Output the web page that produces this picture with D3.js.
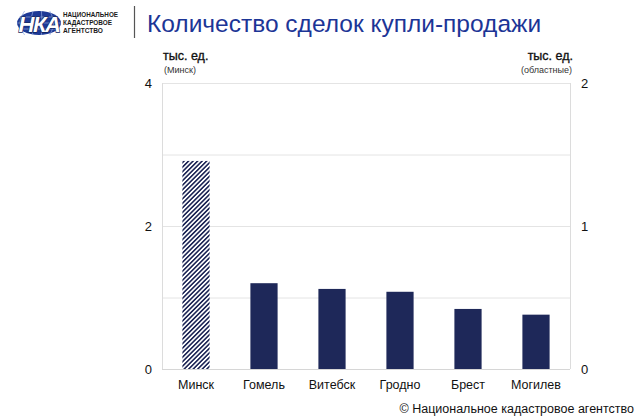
<!DOCTYPE html>
<html><head><meta charset="utf-8">
<script src="https://cdn.jsdelivr.net/npm/d3@7"></script>
<style>
body{margin:0;background:#fff;}
svg{display:block;font-family:"Liberation Sans",Arial,sans-serif;}
</style></head>
<body>
<svg id="c" width="643" height="419"></svg>
<script>
const categories = ["Минск","Гомель","Витебск","Гродно","Брест","Могилев"];
const values = [2.91, 0.60, 0.56, 0.54, 0.42, 0.38];
const axisOf = ["left","right","right","right","right","right"];
const leftTicks = [0, 2, 4];
const rightTicks = [0, 1, 2];
const gridTicks = [0, 1, 2, 3, 4];
const title = "Количество сделок купли-продажи";

const svg = d3.select("#c");
const plot = {l:162, r:570, t:83, b:369};

const x = d3.scaleBand().domain(categories).range([plot.l, plot.r]).paddingInner(0.6).paddingOuter(0.3);
const yL = d3.scaleLinear().domain([0,4]).range([plot.b, plot.t]);
const yR = d3.scaleLinear().domain([0,2]).range([plot.b, plot.t]);

const defs = svg.append("defs");
const pat = defs.append("pattern").attr("id","hatch").attr("patternUnits","userSpaceOnUse")
  .attr("width",3.2).attr("height",3.2).attr("patternTransform","rotate(45)");
pat.append("rect").attr("width",3.2).attr("height",3.2).attr("fill","#fff");
pat.append("rect").attr("x",0).attr("y",0).attr("width",1.6).attr("height",3.2).attr("fill","#1e2656");

// header: logo
const logo = svg.append("g").attr("transform","translate(13,11)");
logo.append("ellipse").attr("cx",26).attr("cy",12).attr("rx",22).attr("ry",12).attr("fill","#1e3a96");
[-12,-5,2,9].forEach(d=>logo.append("path").attr("d",`M${26+d*1.2},0 Q${26+d*2},12 ${26+d*1.2},24`).attr("fill","none").attr("stroke","#8fa6dc").attr("stroke-width",0.7));
logo.append("path").attr("d","M4,12 H48 M7,6 H45 M7,18 H45").attr("stroke","#8fa6dc").attr("stroke-width",0.7);
logo.append("text").attr("x",26).attr("y",21).attr("text-anchor","middle").attr("font-size",22).attr("font-weight","bold")
  .attr("font-style","italic").attr("fill","#fff").attr("stroke","#10245f").attr("stroke-width",1.3).attr("paint-order","stroke")
  .attr("letter-spacing",-1.5).text("НКА");
const lt = svg.append("g").attr("font-size",7.5).attr("font-weight","bold").attr("fill","#1a1a1a");
const logoLines = ["НАЦИОНАЛЬНОЕ","КАДАСТРОВОЕ","АГЕНТСТВО"];
const logoLens = [55, 49, 40];
logoLines.forEach((t,i)=>lt.append("text").attr("x",63).attr("y",17+i*8)
  .attr("textLength",logoLens[i]).attr("lengthAdjust","spacingAndGlyphs").text(t));
svg.append("line").attr("x1",134.5).attr("x2",134.5).attr("y1",6).attr("y2",38).attr("stroke","#555").attr("stroke-width",1.2);
svg.append("text").attr("x",147).attr("y",32).attr("font-size",24.5).attr("fill","#1c3596").text(title);

// gridlines
svg.append("g").selectAll("line").data(gridTicks).join("line")
  .attr("x1",plot.l).attr("x2",plot.r).attr("y1",d=>yL(d)+0.5).attr("y2",d=>yL(d)+0.5)
  .attr("stroke","#e4e4e4").attr("stroke-width",1);
svg.append("line").attr("x1",plot.l+0.5).attr("x2",plot.l+0.5).attr("y1",plot.t).attr("y2",plot.b).attr("stroke","#dcdcdc");
svg.append("line").attr("x1",plot.r+0.5).attr("x2",plot.r+0.5).attr("y1",plot.t).attr("y2",plot.b).attr("stroke","#dcdcdc");
svg.append("line").attr("x1",plot.l).attr("x2",plot.r).attr("y1",plot.b+0.5).attr("y2",plot.b+0.5).attr("stroke","#d6d6d6");

// bars
svg.append("g").selectAll("rect").data(categories).join("rect")
  .attr("x",d=>x(d)).attr("width",x.bandwidth())
  .attr("y",(d,i)=>(axisOf[i]==="left"?yL:yR)(values[i]))
  .attr("height",(d,i)=>plot.b-(axisOf[i]==="left"?yL:yR)(values[i]))
  .attr("fill",(d,i)=>axisOf[i]==="left"?"url(#hatch)":"#1e2859");

// axes
const axL = svg.append("g").attr("transform",`translate(${plot.l},0)`)
  .call(d3.axisLeft(yL).tickValues(leftTicks).tickSize(0).tickPadding(10).tickFormat(d3.format("d")));
const axR = svg.append("g").attr("transform",`translate(${plot.r},0)`)
  .call(d3.axisRight(yR).tickValues(rightTicks).tickSize(0).tickPadding(11).tickFormat(d3.format("d")));
[axL,axR].forEach(a=>{a.select(".domain").remove();a.selectAll("text").attr("font-size",13).attr("fill","#111").attr("font-family","'Liberation Sans',Arial,sans-serif");});
const axB = svg.append("g").attr("transform",`translate(0,${plot.b})`)
  .call(d3.axisBottom(x).tickSize(0).tickPadding(11));
axB.select(".domain").remove();
axB.selectAll("text").attr("font-size",12.5).attr("fill","#111").attr("font-family","'Liberation Sans',Arial,sans-serif");

// unit labels
svg.append("text").attr("x",163).attr("y",60).attr("font-size",12.5).attr("fill","#111").attr("stroke","#111").attr("stroke-width",0.35).text("тыс. ед.");
svg.append("text").attr("x",164).attr("y",72.5).attr("font-size",9).attr("fill","#333").text("(Минск)");
svg.append("text").attr("x",573).attr("y",60).attr("text-anchor","end").attr("font-size",12.5).attr("fill","#111").attr("stroke","#111").attr("stroke-width",0.35).text("тыс. ед.");
svg.append("text").attr("x",572).attr("y",72.5).attr("text-anchor","end").attr("font-size",9).attr("fill","#333").text("(областные)");

// footer
svg.append("text").attr("x",634).attr("y",413).attr("text-anchor","end").attr("font-size",12.5).attr("fill","#111")
  .text("© Национальное кадастровое агентство");
</script>
</body></html>
